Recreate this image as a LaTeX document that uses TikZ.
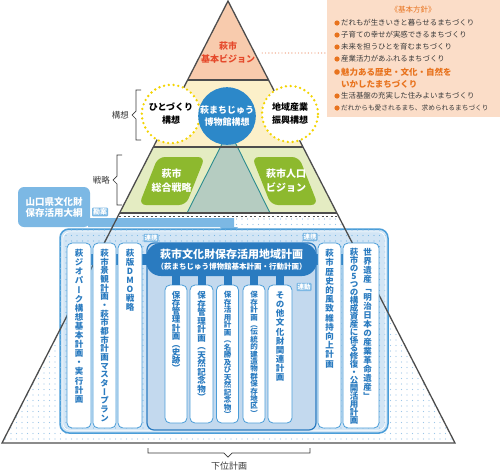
\documentclass[tikz,border=0pt]{standalone}
\usepackage{fontspec}
\setmainfont{Noto Sans CJK JP}
\newfontfamily\jpv[RawFeature=+vert]{Noto Sans CJK JP}
\usetikzlibrary{patterns.meta,calc}
\definecolor{pyr}{HTML}{4D4D4D}
\definecolor{salmon}{HTML}{F8CBAD}
\definecolor{cream}{HTML}{FCF0C9}
\definecolor{lgreen}{HTML}{E4ECC2}
\definecolor{gbox}{HTML}{8DB92E}
\definecolor{tealline}{HTML}{2C8C8F}
\definecolor{tealfill}{HTML}{B5CCC1}
\definecolor{dblue}{HTML}{2A7BC0}
\definecolor{cblueb}{HTML}{2C88C9}
\definecolor{mblue}{HTML}{4A9DD8}
\definecolor{lblue}{HTML}{7CB8E4}
\definecolor{pblue}{HTML}{D2E5F5}
\definecolor{cblue}{HTML}{C3D9EE}
\definecolor{dotblue}{HTML}{9CC6E8}
\definecolor{orng}{HTML}{E8731E}
\definecolor{boxsal}{HTML}{FBDDC8}
\definecolor{vred}{HTML}{E5492B}
\definecolor{yel}{HTML}{F3D400}
\definecolor{txt}{HTML}{3A3A3A}
\definecolor{dotline}{HTML}{F0A585}
\makeatletter
\newcommand\vt[2]{\vbox{\offinterlineskip\@tfor\vt@c:=#2\do{\hbox to 1.2em{\hss\vrule height .88em depth .12em width 0pt\smash{\vt@c}\hss}\vskip\dimexpr#1-1em\relax}}}
\makeatother
\begin{document}
\begin{tikzpicture}[x=1pt,y=-1pt,
  colbox/.style={draw=mblue, line width=0.8pt, fill=white, rounded corners=5pt, inner sep=0pt},
  colt/.style={anchor=north, inner sep=0pt, text=dblue, font=\jpv\bfseries\fontsize{8.5}{9}\selectfont},
  colts/.style={anchor=north, inner sep=0pt, text=dblue, font=\jpv\bfseries\fontsize{7.5}{8}\selectfont},
  lab/.style={fill=lblue, text=white, font=\bfseries\fontsize{6.5}{7}\selectfont, inner sep=1pt, rounded corners=1pt},
  brace/.style={draw=txt, line width=0.7pt},
  bracelab/.style={text=txt, font=\fontsize{8.5}{9}\selectfont, inner sep=1pt},
  item/.style={anchor=west, text=txt, inner sep=0pt, font=\fontsize{7.4}{8}\selectfont},
  bul/.style={fill=orng},
  dcirc/.style={circle, draw=yel, line width=2.6pt, dash pattern=on 0pt off 4.8pt, line cap=round, fill=white, minimum size=56pt, align=center, font=\bfseries\fontsize{9}{13}\selectfont, text=black},
  gtext/.style={text=white, align=center, font=\bfseries\fontsize{10}{14}\selectfont},
  tierline/.style={draw=pyr, line width=1.2pt}
]
\useasboundingbox (0,0) rectangle (500,472);
\fill[white] (0,0) rectangle (500,472);
% pyramid corners
\coordinate (apex) at (228,1);
\coordinate (BL) at (2,443);
\coordinate (BR) at (455,443);
\coordinate (aL) at ($(apex)!0.1787!(BL)$);
\coordinate (aR) at ($(apex)!0.1787!(BR)$);
\coordinate (bL) at ($(apex)!0.3303!(BL)$);
\coordinate (bR) at ($(apex)!0.3303!(BR)$);
\coordinate (cL) at ($(apex)!0.4796!(BL)$);
\coordinate (cR) at ($(apex)!0.4796!(BR)$);
\coordinate (dL) at ($(apex)!0.4864!(BL)$);
\coordinate (dR) at ($(apex)!0.4864!(BR)$);
% policy box
\node[fill=boxsal, minimum width=173pt, minimum height=117pt, anchor=north west, inner sep=0pt] (policy) at (327,0) {};
\node[text=orng, font=\fontsize{7.5}{8}\selectfont] (ptitle) at (413,10) {《基本方針》};
\fill[bul] (337,23) circle (2.6); \node[item] (p1) at (341,23) {だれもが生きいきと暮らせるまちづくり};
\fill[bul] (337,35) circle (2.6); \node[item] (p2) at (341,35) {子育ての幸せが実感できるまちづくり};
\fill[bul] (337,47) circle (2.6); \node[item] (p3) at (341,47) {未来を担うひとを育むまちづくり};
\fill[bul] (337,59) circle (2.6); \node[item] (p4) at (341,59) {産業活力があふれるまちづくり};
\fill[bul] (337,72) circle (2.8); \node[item, text=orng, font=\bfseries\fontsize{8.5}{9}\selectfont] (p5) at (341,72) {魅力ある歴史・文化・自然を};
\node[item, text=orng, font=\bfseries\fontsize{8.5}{9}\selectfont] (p5b) at (341,84) {いかしたまちづくり};
\fill[bul] (337,96) circle (2.6); \node[item] (p6) at (341,96) {生活基盤の充実した住みよいまちづくり};
\fill[bul] (337,108) circle (2.6); \node[item, font=\fontsize{6.7}{7}\selectfont] (p7) at (341,108) {だれからも愛されるまち、求められるまちづくり};
% tiers
\fill[white] (cL) -- (cR) -- (BR) -- (BL) -- cycle;
\fill[pattern={Dots[distance=5.5pt,radius=0.6pt]}, pattern color=dotblue] (cL) -- (cR) -- (BR) -- (BL) -- cycle;
\fill[salmon] (apex) -- (aR) -- (aL) -- cycle;
\fill[cream] (aL) -- (aR) -- (bR) -- (bL) -- cycle;
\fill[lgreen] (bL) -- (bR) -- (cR) -- (cL) -- cycle;
\fill[white] (cL) -- (cR) -- (dR) -- (dL) -- cycle;
\fill[tealfill] (225,138) -- (233,138) -- (270,213) -- (187,213) -- cycle;
\draw[tealline, line width=0.9pt] (225,138) -- (187,213) (233,138) -- (270,213);
\draw[pyr, line width=0.6pt, dash pattern=on 2pt off 2.5pt] ($(dL)+(1,0)$) -- ($(dR)+(-1,0)$);
\draw[tierline] (aL) -- (aR);
\draw[tierline] (bL) -- (bR);
\draw[tierline] (cL) -- (cR);
% Yamaguchi box and band
\fill[lblue] (88,218) -- (234,218) -- (234,227) -- (238,227) -- (229,237) -- (220,227) -- (88,227) -- cycle;
\node[fill=lblue, rounded corners=6pt, minimum width=72pt, minimum height=40pt, text=white, align=center, font=\bfseries\fontsize{9.5}{11}\selectfont, inner sep=0pt] (yama) at (54,207) {山口県文化財\\保存活用大綱};
\node[lab, font=\bfseries\fontsize{7}{7}\selectfont] (kanan) at (100,212) {勘案};
% outer box
\node[draw=mblue, line width=1.5pt, fill=pblue, rounded corners=9pt, minimum width=328pt, minimum height=204pt, inner sep=0pt,
  postaction={pattern={Dots[distance=5.5pt,radius=0.6pt]}, pattern color=lblue}] (outer) at (224,331) {};
\draw[white, line width=0.6pt, rounded corners=7pt] (62.8,231.8) rectangle (385.2,430.2);
% pyramid outline
\draw[pyr, line width=1.3pt, line join=miter] (apex) -- (BL) -- (BR) -- cycle;
% connecting bar
\node[draw=none, minimum width=24pt, minimum height=185pt, inner sep=0pt] (colAg) at (79,335.5) {};
\node[draw=none, minimum width=36pt, minimum height=185pt, inner sep=0pt] (colEg) at (361,335.5) {};
\draw[dblue, line width=11pt] (colAg.center |- 0,259.5) -- (colEg.center |- 0,259.5);
% central box
\node[draw=dblue, line width=1.2pt, fill=cblue, rounded corners=7pt, minimum width=169pt, minimum height=187pt, inner sep=0pt] (cbox) at (231.5,336.5) {};
% columns
\node[colbox, minimum width=24pt, minimum height=185pt] (colA) at (79,335.5) {};
\node[colbox, minimum width=23pt, minimum height=185pt] (colB) at (104.5,335.5) {};
\node[colbox, minimum width=24pt, minimum height=185pt] (colC) at (130,335.5) {};
\node[colbox, minimum width=23pt, minimum height=185pt] (colD) at (329.5,335.5) {};
\node[colbox, minimum width=36pt, minimum height=185pt] (colE) at (361,335.5) {};
\node[colt] (tA) at (79,249) {\vt{9.1pt}{萩ジオパーク構想基本計画・実行計画}};
\node[colt] (tB) at (104.5,249) {\vt{8.65pt}{萩市景観計画・萩市都市計画マスタープラン}};
\node[colt] (tC) at (130,249) {\vt{9pt}{萩版DMO戦略}};
\node[colt] (tD) at (329.5,249) {\vt{9.2pt}{萩市歴史的風致維持向上計画}};
\node[colt] (tE1) at (367.5,248) {\vt{9pt}{世界遺産「明治日本の産業革命遺産」}};
\node[colt] (tE2) at (354,248) {\vt{8pt}{萩市の5つの構成資産に係る修復・公開活用計画}};
% pill
\node[fill=dblue, rounded corners=15pt, minimum width=171pt, minimum height=33pt, text=white, align=center, inner sep=0pt] (pill) at (231.5,259.5)
  {{\bfseries\fontsize{11}{13}\selectfont 萩市文化財保存活用地域計画}\\[-1pt]{\bfseries\fontsize{7.5}{9}\selectfont （萩まちじゅう博物館基本計画・行動計画）}};
% sub columns
\node[colbox, minimum width=22pt, minimum height=138pt] (s1) at (176,354) {};
\node[colbox, minimum width=23pt, minimum height=138pt] (s2) at (201.5,354) {};
\node[colbox, minimum width=22pt, minimum height=138pt] (s3) at (227.5,354) {};
\node[colbox, minimum width=22pt, minimum height=138pt] (s4) at (254,354) {};
\node[colbox, minimum width=24pt, minimum height=138pt] (s5) at (280,354) {};
\foreach \s in {s1,s2,s3,s4,s5} {\draw[dblue, line width=8pt] (\s.north) -- (\s.north |- pill.south);}
\node[colt] (ts1) at (176,291) {\vt{8.1pt}{保存管理計画（史跡）}};
\node[colt] (ts2) at (201.5,291) {\vt{8.5pt}{保存管理計画（天然記念物）}};
\node[colts] (ts3) at (227.5,291) {\vt{7.5pt}{保存活用計画（名勝及び天然記念物）}};
\node[colts] (ts4) at (254,291) {\vt{7.4pt}{保存計画（伝統的建造物群保存地区）}};
\node[colt] (ts5) at (280,291) {\vt{9.1pt}{その他文化財関連計画}};
% labels
\node[lab] (renkei1) at (151,238) {連携};
\node[lab] (renkei2) at (310,237) {連携};
\node[lab] (rendo) at (304,287) {連動};
% tier 3 green boxes
\fill[gbox, rounded corners=7pt] (158,157) -- (205,157) -- (186,205) -- (139,205) -- cycle;
\node[gtext] (sogo) at (171.5,181) {萩市\\総合戦略};
\fill[gbox, rounded corners=7pt] (252,157) -- (299,157) -- (318,205) -- (271,205) -- cycle;
\node[gtext] (jinko) at (286,181) {萩市人口\\ビジョン};
% tier 2 circles
\node[dcirc] (hito) at (171,114) {ひとづくり\\構想};
\node[dcirc] (chiiki) at (290,114) {地域産業\\振興構想};
\node[circle, fill=cblueb, minimum size=54pt, inner sep=0pt, text=white, align=center, font=\bfseries\fontsize{9}{12}\selectfont] (machi) at (227,116) {萩まちじゅう\\博物館構想};
% vision
\node[text=vred, align=center, font=\bfseries\fontsize{9}{13}\selectfont, inner sep=1pt] (vision) at (228,53) {萩市\\基本ビジョン};
\draw[dotline, line width=1.4pt, dash pattern=on 0pt off 3.3pt, line cap=round] ($(vision.east)+(6,0)$) -- (policy.west |- vision.east);
% braces
\draw[brace] (141,90) -- (136,90) -- (136,111) -- (132,115) -- (136,119) -- (136,140) -- (141,140);
\node[bracelab, anchor=east] (koso) at (130,115) {構想};
\draw[brace] (122,155) -- (117,155) -- (117,176) -- (113,180) -- (117,184) -- (117,205) -- (122,205);
\node[bracelab, anchor=east] (senryaku) at (111,180) {戦略};
\draw[brace] (148,448) -- (148,453) -- (224,453) -- (228,457) -- (232,453) -- (310,453) -- (310,448);
\node[bracelab, font=\fontsize{9}{10}\selectfont] (kai) at (229,466) {下位計画};
\end{tikzpicture}
\end{document}
